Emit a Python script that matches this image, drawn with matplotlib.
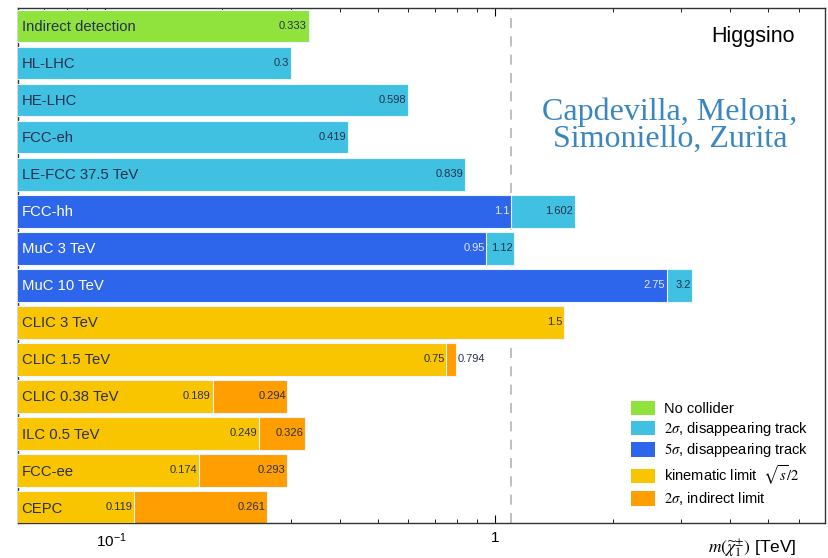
import numpy as np
import matplotlib
matplotlib.use('Agg')
import matplotlib.pyplot as plt
import matplotlib.transforms as mtransforms
from matplotlib.patches import Patch

plt.rcParams['font.family'] = ['Liberation Sans', 'DejaVu Sans']
plt.rcParams['mathtext.fontset'] = 'stix'

# Reach of each experiment (TeV)
labels = ['Indirect detection', 'HL-LHC', 'HE-LHC', 'FCC-eh', 'LE-FCC 37.5 TeV',
          'FCC-hh', 'MuC 3 TeV', 'MuC 10 TeV', 'CLIC 3 TeV', 'CLIC 1.5 TeV',
          'CLIC 0.38 TeV', 'ILC 0.5 TeV', 'FCC-ee', 'CEPC']
inner = [0.333, 0.3, 0.598, 0.419, 0.839, 1.1, 0.95, 2.75, 1.5, 0.75,
         0.189, 0.249, 0.174, 0.119]
inner_kind = ['none', 'dt2', 'dt2', 'dt2', 'dt2', 'dt5', 'dt5', 'dt5',
              'kin', 'kin', 'kin', 'kin', 'kin', 'kin']
outer = [None, None, None, None, None, 1.602, 1.12, 3.2, None, 0.794,
         0.294, 0.326, 0.293, 0.261]
outer_kind = [None, None, None, None, None, 'dt2', 'dt2', 'dt2', None, 'ind',
              'ind', 'ind', 'ind', 'ind']

colors = {'none': '#8fe33c', 'dt2': '#40c1e1', 'dt5': '#2d66ea',
          'kin': '#f9c500', 'ind': '#ff9e00'}
legend_text = {'none': 'No collider',
               'dt2': r'$2\sigma$, disappearing track',
               'dt5': r'$5\sigma$, disappearing track',
               'kin': r'kinematic limit  $\sqrt{s}/2$',
               'ind': r'$2\sigma$, indirect limit'}

xmin, xmax = 0.06, 7.0
dark = '#2a3050'

fig = plt.figure(figsize=(8.29, 5.58), dpi=100)
ax = fig.add_axes([0.0217, 0.0627, 0.9735, 0.923])
ax.set_xscale('log')
ax.set_xlim(xmin, xmax)
ax.set_ylim(13.42, -0.49)

y = np.arange(len(labels))
h = 0.88
edge = dict(edgecolor='#e8f4ff', linewidth=0.8)
ytrans = ax.get_yaxis_transform()

for i in range(len(labels)):
    if outer[i] is not None:
        ax.barh(y[i], outer[i] - 1e-3, left=1e-3, height=h,
                color=colors[outer_kind[i]], zorder=2, **edge)
    ax.barh(y[i], inner[i] - 1e-3, left=1e-3, height=h,
            color=colors[inner_kind[i]], zorder=3, **edge)

    txt_col = 'white' if inner_kind[i] == 'dt5' else dark
    ax.text(0.0045, y[i] + 0.03, labels[i], fontsize=10.7, color=txt_col,
            va='center', ha='left', zorder=5, transform=ytrans)

    val_col = '#e0e8ff' if inner_kind[i] == 'dt5' else dark
    ax.text(inner[i] * 0.99, y[i], f'{inner[i]:g}', fontsize=8,
            color=val_col, va='center', ha='right', zorder=5)
    if outer[i] is not None:
        if outer[i] / inner[i] < 1.1 and outer_kind[i] == 'ind':
            # too narrow to hold the number, put it after the bar
            ax.text(outer[i] * 1.01, y[i], f'{outer[i]:g}', fontsize=8,
                    color=dark, va='center', ha='left', zorder=5)
        else:
            ax.text(outer[i] * 0.99, y[i], f'{outer[i]:g}', fontsize=8,
                    color=dark, va='center', ha='right', zorder=5)

ax.axvline(1.1, color='#b4b4b4', lw=1.2, ls=(0, (6, 5)), zorder=1)

# axes styling
ax.set_yticks([])
ax.tick_params(axis='x', which='both', direction='in', top=True,
               labelsize=11, pad=6)
ax.tick_params(axis='x', which='major', length=6)
ax.tick_params(axis='x', which='minor', length=3)
ax.set_xticks([0.1, 1])
ax.set_xticklabels([r'$\mathregular{10^{-1}}$', '1'])
# centre the mantissa "10" on its tick
lbl = ax.xaxis.get_major_ticks()[0].label1
lbl.set_horizontalalignment('left')
lbl.set_transform(lbl.get_transform() +
                  mtransforms.ScaledTranslation(-0.085, 0, fig.dpi_scale_trans))
for s in ax.spines.values():
    s.set_color('#333333')
    s.set_linewidth(1.0)

ax.set_xlabel(r'$m(\widetilde{\chi}_1^{\pm})$ [TeV]', fontsize=12.5, loc='right')
ax.xaxis.set_label_coords(0.965, -0.025)

ax.text(0.962, 0.945, 'Higgsino', fontsize=15.5, ha='right', va='center',
        transform=ax.transAxes)
ax.text(0.808, 0.772, 'Capdevilla, Meloni,\nSimoniello, Zurita',
        family='Liberation Serif', fontsize=23, color='#3a87c0',
        ha='center', va='center', linespacing=0.9, transform=ax.transAxes)

handles = [Patch(facecolor=colors[k], edgecolor='none', label=legend_text[k])
           for k in ['none', 'dt2', 'dt5', 'kin', 'ind']]
ax.legend(handles=handles, loc='lower right', bbox_to_anchor=(0.995, 0.005),
          frameon=False, fontsize=10.5, handlelength=1.6, handleheight=1.15,
          labelspacing=0.25, handletextpad=0.6)

fig.savefig('out.png', dpi=100)
